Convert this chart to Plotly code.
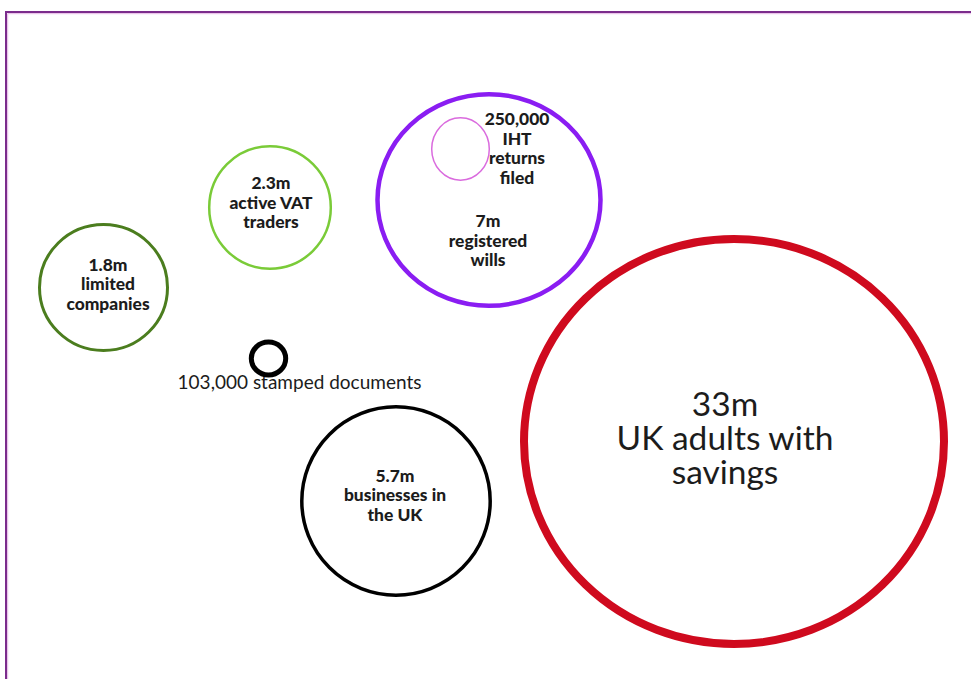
import plotly.graph_objects as go

# ---- data ----
categories = ["UK adults with savings", "registered wills", "businesses in the UK",
              "active VAT traders", "limited companies", "IHT returns filed",
              "stamped documents"]
value_labels = ["33m", "7m", "5.7m", "2.3m", "1.8m", "250,000", "103,000"]
values = [33_000_000, 7_000_000, 5_700_000, 2_300_000, 1_800_000, 250_000, 103_000]
label_lines = [
    ["33m", "UK adults with", "savings"],
    ["7m", "registered", "wills"],
    ["5.7m", "businesses in", "the UK"],
    ["2.3m", "active VAT", "traders"],
    ["1.8m", "limited", "companies"],
    ["250,000", "IHT", "returns", "filed"],
    ["103,000 stamped documents"],
]

# ---- layout (pixel space of the canvas) ----
cx = [734, 489, 396, 270, 103.5, 460.5, 268.5]
cy = [441.5, 200, 501, 207.5, 287.5, 149, 358.5]
rx = [210, 111.5, 94.2, 60.8, 64, 28.8, 17.2]
ry = [202.5, 105.8, 94.2, 61.2, 63, 31.2, 16.5]
line_w = [8, 4.5, 3.5, 2.5, 3, 1.5, 5]
colors = ["#CF0A1E", "#8A1DF2", "#000000", "#7ACB38", "#4B7D1E", "#DA6BDE", "#000000"]

text_x = [725, 488, 395, 271, 108, 517, 299.5]
text_y0 = [408, 222.5, 477.5, 185, 266.5, 120.5, 384]
text_gap = [34, 19.8, 19.6, 19.5, 19.5, 19.8, 0]
text_size = [33.5, 17.4, 17.4, 17.4, 17.4, 17.4, 19]
text_weight = [400, 900, 900, 900, 900, 900, 400]

W, H = 971, 679

fig = go.Figure()

shapes = []
# page frame
shapes.append(dict(type="rect", xref="x", yref="y", x0=6, y0=12, x1=W + 20, y1=H + 20,
                   line=dict(color="#7B2C8C", width=2), layer="below"))
shapes.append(dict(type="rect", xref="x", yref="y", x0=7.7, y0=13.7, x1=W + 20, y1=H + 20,
                   line=dict(color="#E6B8E6", width=1), layer="below"))

for i in range(len(values)):
    shapes.append(dict(type="circle", xref="x", yref="y",
                       x0=cx[i] - rx[i], x1=cx[i] + rx[i],
                       y0=cy[i] - ry[i], y1=cy[i] + ry[i],
                       line=dict(color=colors[i], width=line_w[i]),
                       fillcolor="rgba(0,0,0,0)", layer="above"))

for i, lines in enumerate(label_lines):
    xs = [text_x[i]] * len(lines)
    ys = [text_y0[i] + k * text_gap[i] for k in range(len(lines))]
    fig.add_trace(go.Scatter(
        x=xs, y=ys, mode="text", text=lines,
        textposition="middle center",
        textfont=dict(family="Lato", size=text_size[i], color="#1C1C1C",
                      weight=text_weight[i]),
        hovertext=[f"{value_labels[i]} {categories[i]}"] * len(lines),
        hoverinfo="text", showlegend=False,
    ))

fig.update_layout(
    width=W, height=H,
    margin=dict(l=0, r=0, t=0, b=0),
    paper_bgcolor="white", plot_bgcolor="white",
    xaxis=dict(range=[0, W], visible=False, fixedrange=True),
    yaxis=dict(range=[H, 0], visible=False, fixedrange=True),
    shapes=shapes,
    showlegend=False,
)

fig.write_html("out.html", config={"displayModeBar": False},
               post_script="document.body.style.margin='0';document.body.style.overflow='hidden';")
